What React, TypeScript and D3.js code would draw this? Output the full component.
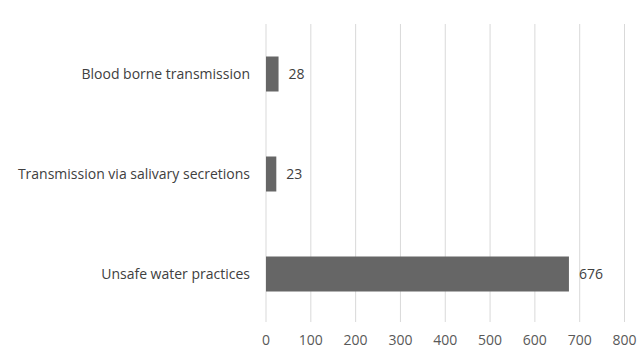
import React from "react";
import * as d3 from "d3";

const categories = ["Blood borne transmission", "Transmission via salivary secretions", "Unsafe water practices"];
const values = [28, 23, 676];
const ticks = [0, 100, 200, 300, 400, 500, 600, 700, 800];

const W = 641, H = 347;
const FONT = "'Open Sans', 'Liberation Sans', sans-serif";

export default function App() {
  const x = d3.scaleLinear().domain([0, 800]).range([266, 624.5]);
  const y = d3.scaleBand().domain(categories).range([24, 324]).paddingInner(0.65).paddingOuter(0.325);
  return (
    <svg width={W} height={H} style={{ position: "absolute", left: 0, top: 0, background: "#fff" }}>
      <rect width={W} height={H} fill="#fff" />
      {ticks.map((t) => (
        <g key={t}>
          <line x1={x(t)} x2={x(t)} y1={24} y2={322} stroke="#d9d9d9" strokeWidth={1} />
          <text x={x(t)} y={345} textAnchor="middle" fontFamily={FONT} fontSize={14} fill="#595959">{t}</text>
        </g>
      ))}
      {categories.map((c, i) => (
        <g key={c}>
          <rect x={x(0)} y={y(c)!} width={x(values[i]) - x(0)} height={y.bandwidth()} fill="#666666" />
          <text x={x(values[i]) + 10} y={y(c)! + y.bandwidth() / 2 + 5} fontFamily={FONT} fontSize={14} fill="#404040">{values[i]}</text>
          <text x={250} y={y(c)! + y.bandwidth() / 2 + 5} textAnchor="end" fontFamily={FONT} fontSize={14} fill="#404040">{c}</text>
        </g>
      ))}
    </svg>
  );
}
